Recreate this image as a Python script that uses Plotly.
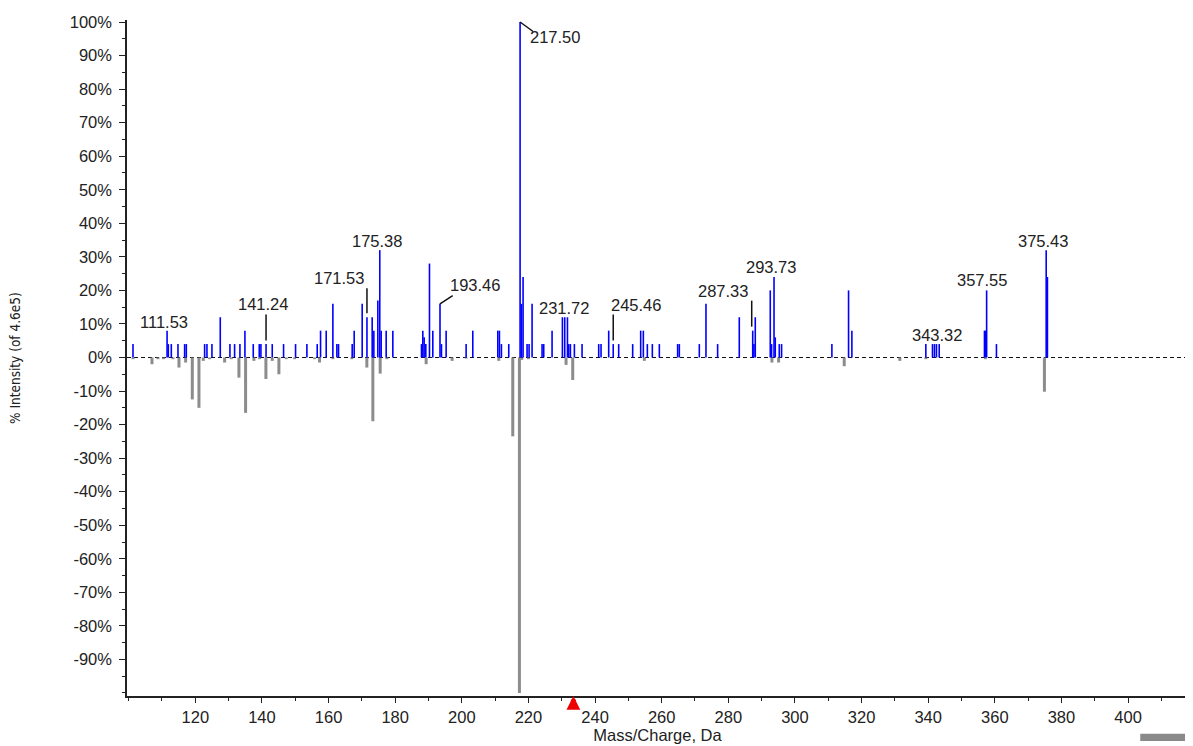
import plotly.graph_objects as go

# ---------------- data ----------------
# positive (blue) spectrum: m/z and % intensity
blue_mz = [101.3, 111.53, 111.9, 112.8, 114.8, 116.8, 117.3, 122.8, 123.5, 125.0,
           127.5, 130.4, 131.8, 133.4, 134.9, 137.4, 139.2, 139.7, 141.24, 143.1,
           146.5, 150.1, 153.5, 156.6, 157.6, 159.3, 161.3, 162.5, 163.0, 167.1,
           167.7, 170.1, 171.53, 173.1, 173.6, 174.8, 175.38, 175.8, 177.3, 179.3,
           187.9, 188.3, 188.7, 189.2, 190.3, 191.3, 193.46, 193.9, 195.3, 201.3,
           203.3, 210.8, 211.3, 211.9, 214.1, 217.50, 217.9, 218.4, 219.6, 220.2,
           221.1, 224.1, 224.6, 227.1, 230.2, 230.9, 231.72, 232.1, 232.6, 233.8,
           236.1, 241.1, 241.8, 244.1, 245.46, 247.1, 251.3, 253.7, 254.5, 255.7,
           257.2, 259.3, 264.8, 265.3, 271.3, 273.3, 276.8, 283.3, 287.33, 287.7,
           288.1, 292.6, 293.0, 293.73, 294.1, 295.3, 296.0, 311.1, 316.1, 317.1,
           339.3, 341.3, 341.9, 342.5, 343.32, 356.9, 357.2, 357.55, 360.5, 375.43,
           375.8]
blue_int = [4, 8, 4, 4, 4, 4, 4, 4, 4, 4,
            12, 4, 4, 4, 8, 4, 4, 4, 4, 4,
            4, 4, 4, 4, 8, 8, 16, 4, 4, 4,
            8, 16, 12, 12, 8, 17, 32, 8, 8, 8,
            4, 8, 6, 4, 28, 8, 16, 4, 8, 4,
            8, 8, 8, 4, 4, 100, 16, 24, 4, 4,
            16, 4, 4, 8, 12, 12, 12, 4, 4, 4,
            4, 4, 4, 8, 4, 4, 4, 8, 8, 4,
            4, 4, 4, 4, 4, 16, 4, 12, 8, 4,
            12, 20, 4, 24, 6, 4, 4, 4, 20, 8,
            4, 4, 4, 4, 4, 8, 8, 20, 4, 32,
            24]

# negative (grey, mirrored) spectrum: m/z and % intensity
grey_mz = [101.3, 107.0, 108.8, 110.5, 113.3, 115.1, 117.1, 119.1, 121.1, 122.4,
           124.3, 128.8, 130.8, 133.1, 135.1, 137.6, 139.3, 141.2, 143.1, 145.1,
           147.3, 149.8, 155.8, 157.3, 161.3, 167.0, 171.5, 173.3, 175.5, 177.5,
           189.3, 197.1, 201.3, 211.1, 215.3, 217.3, 218.0, 220.0, 231.3, 233.3,
           254.8, 293.1, 295.1, 314.8, 331.5, 339.3, 357.2, 374.9]
grey_int = [-0.5, -2, -0.5, -0.5, -0.5, -3, -1.5, -12.5, -15, -1,
            -0.5, -1.5, -0.5, -6, -16.5, -1, -0.5, -6.4, -1, -5,
            -0.5, -0.5, -0.5, -1.5, -0.5, -0.5, -3, -19, -4.8, -0.5,
            -2, -1, -0.3, -1, -23.5, -100, -0.7, -0.5, -2.2, -6.7,
            -1, -1.5, -1.5, -2.6, -1, -0.5, -0.5, -10.2]

# labelled peaks
label_mz = [111.53, 141.24, 171.53, 175.38, 193.46, 217.50, 231.72, 245.46,
            287.33, 293.73, 343.32, 357.55, 375.43]

precursor_mz = 233.5

x_ticks = list(range(120, 401, 20))
y_ticks = list(range(-90, 101, 10))
y_ticktext = [f"{v}%" for v in y_ticks]

x_title = "Mass/Charge, Da"
y_title = "% Intensity (of 4.6e5)"

# ---------------- style / layout (pixel offsets of labels) ----------------
label_style = {
    111.53: dict(dx=-3, dy=9),
    141.24: dict(dx=-3, dy=40, conn=((0, 3.5), (0, 29.5))),
    171.53: dict(dx=-28, dy=39.5, conn=((0, 4), (0, 29))),
    175.38: dict(dx=-3, dy=9),
    193.46: dict(dx=35, dy=18.6, conn=((0, 0), (12.7, 8.3))),
    217.50: dict(dx=35, dy=-15.3, conn=((0, 0), (13, -9.5))),
    231.72: dict(dx=-3, dy=9),
    245.46: dict(dx=22.7, dy=39.4, conn=((0, 3.5), (0, 29.5))),
    287.33: dict(dx=-29.4, dy=39.8, conn=((-1, 4), (-1, 30))),
    293.73: dict(dx=-3, dy=9.7),
    343.32: dict(dx=-2.4, dy=9.4),
    357.55: dict(dx=-4.4, dy=10),
    375.43: dict(dx=-3.6, dy=9),
}

FONT = "Liberation Sans, Arial, Helvetica, sans-serif"
TXT = "#222222"


def sticks(mz, inten):
    xs, ys = [], []
    for m, v in zip(mz, inten):
        xs += [m, m, None]
        ys += [0, v, None]
    return xs, ys


fig = go.Figure()

gx, gy = sticks(grey_mz, grey_int)
fig.add_trace(go.Scatter(x=gx, y=gy, mode="lines",
                         line=dict(color="#8c8c8c", width=3),
                         hoverinfo="skip", showlegend=False))
bx, by = sticks(blue_mz, blue_int)
fig.add_trace(go.Scatter(x=bx, y=by, mode="lines",
                         line=dict(color="#0000ff", width=1.6),
                         hoverinfo="skip", showlegend=False))

shapes = [
    dict(type="line", xref="paper", x0=0, x1=1, yref="y", y0=0, y1=0,
         line=dict(color="#111111", width=1, dash="4px,3px"), layer="below"),
    dict(type="rect", xref="paper", yref="paper", x0=0.955, x1=1.01,
         y0=-0.0665, y1=-0.056, fillcolor="#8a8a8a", line=dict(width=0)),
]
annotations = []
blue_lookup = dict(zip(blue_mz, blue_int))
for m in label_mz:
    h = blue_lookup[m]
    st = label_style[m]
    annotations.append(dict(x=m, y=h, xref="x", yref="y", text=f"{m:.2f}",
                            showarrow=False, xshift=st["dx"], yshift=st["dy"],
                            xanchor="center", yanchor="middle",
                            font=dict(family=FONT, size=16.5, color=TXT)))
    if "conn" in st:
        (x0, y0), (x1, y1) = st["conn"]
        shapes.append(dict(type="line", xref="x", yref="y",
                           xsizemode="pixel", ysizemode="pixel",
                           xanchor=m, yanchor=h, x0=x0, x1=x1, y0=y0, y1=y1,
                           line=dict(color="#111111", width=1.5)))

# y-axis title
annotations.append(dict(x=-0.1056, y=0.5, xref="paper", yref="paper",
                        text=y_title, showarrow=False, textangle=-90,
                        xanchor="center", yanchor="middle",
                        font=dict(family="Liberation Sans Narrow, DejaVu Sans Condensed, Liberation Sans",
                                  size=13.5, color=TXT)))
# precursor marker
annotations.append(dict(x=precursor_mz, y=0, xref="x", yref="paper", text="",
                        showarrow=True, ax=0, ay=13, arrowhead=2, arrowsize=0.55,
                        arrowwidth=5, arrowcolor="#ee0000", standoff=0))

# the page body has an 8px margin, so the figure is drawn 8px smaller
fig.update_layout(
    width=1185, height=738,
    margin=dict(l=119, r=5, t=7, b=46),
    paper_bgcolor="white", plot_bgcolor="white",
    font=dict(family=FONT, size=16, color=TXT),
    shapes=shapes, annotations=annotations,
    xaxis=dict(range=[99.5, 418], tickmode="array", tickvals=x_ticks,
               ticks="outside", ticklen=5, tickwidth=1, tickcolor="#222",
               showline=True, linecolor="#222", linewidth=1.5,
               showgrid=False, zeroline=False,
               minor=dict(dtick=10, tick0=0, ticklen=3, ticks="outside",
                          tickcolor="#222", showgrid=False),
               title=dict(text=x_title, standoff=4,
                          font=dict(family=FONT, size=16.5, color=TXT)),
               tickfont=dict(family=FONT, size=16.5, color=TXT)),
    yaxis=dict(range=[-100.9, 100.6], tickmode="array", tickvals=y_ticks,
               ticktext=y_ticktext, ticklabeloverflow="allow",
               ticks="outside", ticklen=6, tickwidth=1, tickcolor="#222",
               showline=True, linecolor="#222", linewidth=1.5,
               showgrid=False, zeroline=False, ticklabelstandoff=4,
               minor=dict(dtick=5, tick0=0, ticklen=3, ticks="outside",
                          tickcolor="#222", showgrid=False),
               tickfont=dict(family=FONT, size=16.5, color=TXT)),
)

fig.write_html("out.html")
